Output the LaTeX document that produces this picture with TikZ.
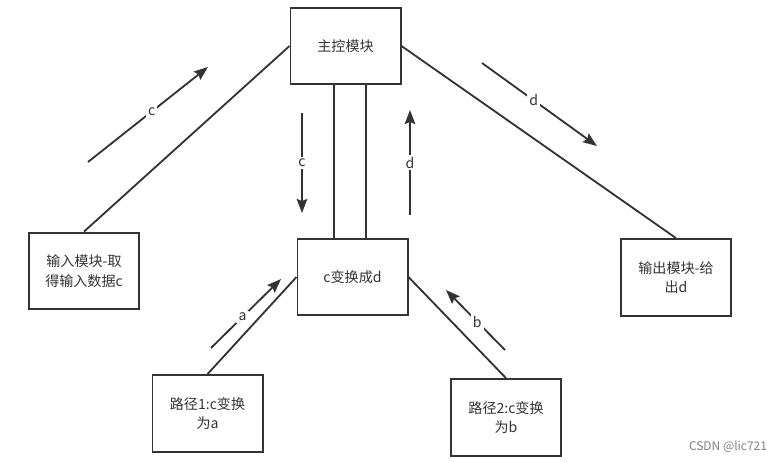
\documentclass[tikz,border=0pt]{standalone}
\usepackage{fontspec}
\setmainfont{Noto Sans CJK SC}
\usetikzlibrary{arrows.meta}
\definecolor{ink}{HTML}{333333}
\tikzset{
    box/.style={draw=ink, line width=1.4pt, minimum width=2.75cm, minimum height=1.92cm, align=center, text=ink, inner sep=2pt},
    link/.style={draw=ink, line width=1.3pt},
    flow/.style={draw=ink, line width=1.3pt, -{Stealth[length=10pt, width=7.5pt, inset=1.5pt]}},
    tag/.style={fill=white, text=ink, inner sep=1.5pt}
}
\begin{document}
\begin{tikzpicture}[x=0.025cm, y=-0.025cm, font=\fontsize{10}{14}\selectfont]
    \useasboundingbox (0, 0) rectangle (782, 461);
    \node[box] (main) at (345.5, 46) {主控模块};
    \node[box] (in) at (84, 271) {输入模块-取\\得输入数据c};
    \node[box] (trans) at (352.5, 277) {c变换成d};
    \node[box] (out) at (676, 277.5) {输出模块-给\\出d};
    \node[box] (pa) at (207.5, 413.5) {路径1:c变换\\为a};
    \node[box] (pb) at (506, 417.5) {路径2:c变换\\为b};
    \draw[link] (in.north) -- (main.west);
    \draw[link] (main.east) -- (out.north);
    \draw[link] ([xshift=-0.46cm]trans.north) -- ([xshift=-0.46cm]trans.north |- main.south);
    \draw[link] ([xshift=0.34cm]trans.north) -- ([xshift=0.34cm]trans.north |- main.south);
    \draw[link] (trans.west) -- (pa.north);
    \draw[link] (trans.east) -- (pb.north);
    \coordinate (cs) at (88, 162);
    \coordinate (ce) at (208, 67);
    \coordinate (cds) at (302, 113);
    \coordinate (cde) at (302, 213);
    \coordinate (dus) at (410, 215);
    \coordinate (due) at (410, 110);
    \coordinate (ds) at (482, 63);
    \coordinate (de) at (597, 146);
    \coordinate (as) at (211, 348);
    \coordinate (ae) at (281, 279);
    \coordinate (bs) at (505, 350);
    \coordinate (be) at (446, 290);
    \draw[flow] (cs) -- node[tag, pos=0.53] {c} (ce);
    \draw[flow] (cds) -- node[tag] {c} (cde);
    \draw[flow] (dus) -- node[tag] {d} (due);
    \draw[flow] (ds) -- node[tag, pos=0.45] {d} (de);
    \draw[flow] (as) -- node[tag, pos=0.45] {a} (ae);
    \draw[flow] (bs) -- node[tag, pos=0.47] {b} (be);
    \node[text=gray, font=\fontsize{8.5}{10}\selectfont] (mark) at (728, 447) {CSDN @lic721};
\end{tikzpicture}
\end{document}
